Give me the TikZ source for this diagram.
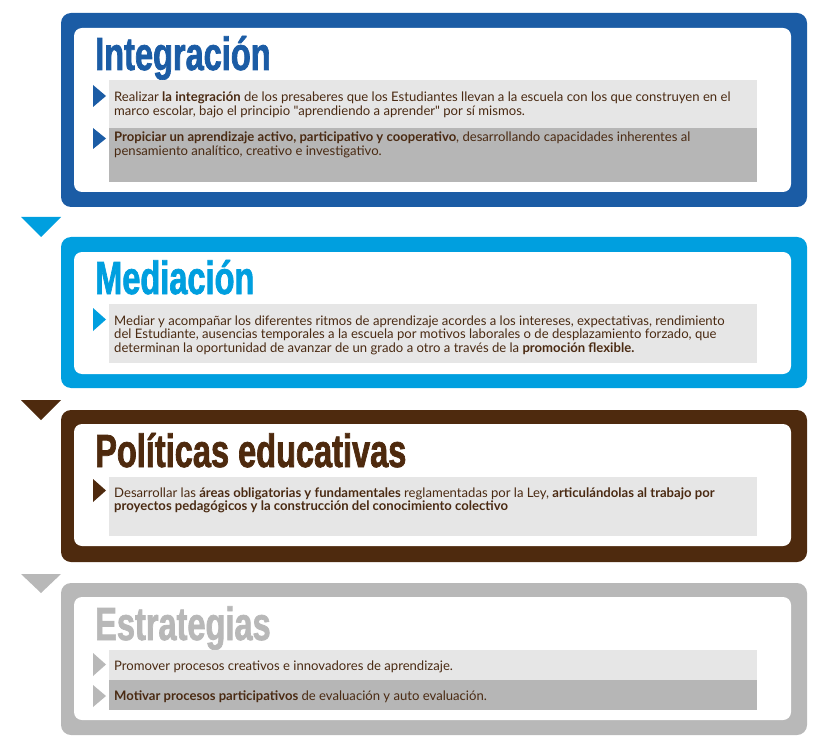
\documentclass[tikz,border=0pt]{standalone}
\usepackage{fontspec}
\setmainfont{Lato}[Ligatures=TeXOff]
\newfontfamily\titlefont[FakeStretch=0.70,FakeBold=1.5]{Liberation Sans}
\usetikzlibrary{positioning}
\definecolor{blueA}{HTML}{1B5CA5}
\definecolor{cyanA}{HTML}{009FDF}
\definecolor{brownA}{HTML}{4E2A0E}
\definecolor{grayA}{HTML}{B8B8B8}
\definecolor{lightbox}{HTML}{E6E6E6}
\definecolor{darkbox}{HTML}{B6B6B6}
\definecolor{txtc}{HTML}{4A2A12}
\tikzset{
  outerpanel/.style={anchor=north west, inner sep=0pt, outer sep=0pt, rounded corners=10pt, minimum width=746pt},
  innerpanel/.style={anchor=north west, inner sep=0pt, outer sep=0pt, fill=white, rounded corners=8pt, minimum width=717pt},
  itembox/.style={anchor=north west, inner sep=0pt, outer sep=0pt, minimum width=648pt},
  titletxt/.style={anchor=base west, inner sep=0pt, font=\titlefont\bfseries\fontsize{46.5}{46}\selectfont},
  linetxt/.style={anchor=base west, inner sep=0pt, text=txtc, font=\fontsize{13.1}{14}\selectfont},
}
\begin{document}
\begin{tikzpicture}[x=1pt,y=-1pt]
\useasboundingbox (0,0) rectangle (821,751);
% ---------- Panel 1: Integracion ----------
\node[outerpanel, fill=blueA, minimum height=194pt] (p1) at (61,13) {};
\node[innerpanel, minimum height=164pt] (p1in) at (74,28) {};
\node[titletxt, text=blueA] (t1) at (95,70) {Integración};
\node[itembox, fill=lightbox, minimum height=48pt] (b1a) at (109,80) {};
\node[itembox, fill=darkbox, minimum height=54pt] (b1b) at (109,128) {};
\fill[blueA] (93,85) -- (106,96) -- (93,107) -- cycle;
\fill[blueA] (93,128) -- (106,138.5) -- (93,149) -- cycle;
\node[linetxt] (l1a) at (114,102) {Realizar \textbf{la integración} de los presaberes que los Estudiantes llevan a la escuela con los que construyen en el};
\node[linetxt] (l1b) at (114,116) {marco escolar, bajo el principio "aprendiendo a aprender" por sí mismos.};
\node[linetxt] (l1c) at (114,142) {\textbf{Propiciar un aprendizaje activo, participativo y cooperativo}, desarrollando capacidades inherentes al};
\node[linetxt] (l1d) at (114,156) {pensamiento analítico, creativo e investigativo.};
% ---------- Panel 2: Mediacion ----------
\fill[cyanA] (21,217) -- (61,217) -- (41,237) -- cycle;
\node[outerpanel, fill=cyanA, minimum height=151pt] (p2) at (61,237) {};
\node[innerpanel, minimum height=122pt] (p2in) at (74,252) {};
\node[titletxt, text=cyanA] (t2) at (95,294) {Mediación};
\node[itembox, fill=lightbox, minimum height=59pt] (b2a) at (109,304) {};
\fill[cyanA] (93,308) -- (106,319.5) -- (93,331) -- cycle;
\node[linetxt] (l2a) at (114,325) {Mediar y acompañar los diferentes ritmos de aprendizaje acordes a los intereses, expectativas, rendimiento};
\node[linetxt] (l2b) at (114,338.5) {del Estudiante, ausencias temporales a la escuela por motivos laborales o de desplazamiento forzado, que};
\node[linetxt] (l2c) at (114,352) {determinan la oportunidad de avanzar de un grado a otro a través de la \textbf{promoción flexible.}};
% ---------- Panel 3: Politicas educativas ----------
\fill[brownA] (21,400) -- (61,400) -- (41,420) -- cycle;
\node[outerpanel, fill=brownA, minimum height=152pt] (p3) at (61,410) {};
\node[innerpanel, minimum height=122pt] (p3in) at (74,424) {};
\node[titletxt, text=brownA] (t3) at (95,467) {Políticas educativas};
\node[itembox, fill=lightbox, minimum height=59pt] (b3a) at (109,477) {};
\fill[brownA] (93,479) -- (106,490.5) -- (93,502) -- cycle;
\node[linetxt] (l3a) at (114,497) {Desarrollar las \textbf{áreas obligatorias y fundamentales} reglamentadas por la Ley, \textbf{articulándolas al trabajo por}};
\node[linetxt] (l3b) at (114,510.5) {\textbf{proyectos pedagógicos y la construcción del conocimiento colectivo}};
% ---------- Panel 4: Estrategias ----------
\fill[grayA] (21,574) -- (61,574) -- (41,593) -- cycle;
\node[outerpanel, fill=grayA, minimum height=152pt] (p4) at (61,583) {};
\node[innerpanel, minimum height=123pt] (p4in) at (74,597) {};
\node[titletxt, text=grayA] (t4) at (95,640) {Estrategias};
\node[itembox, fill=lightbox, minimum height=30pt] (b4a) at (109,650) {};
\node[itembox, fill=darkbox, minimum height=30pt] (b4b) at (109,680) {};
\fill[grayA] (93,653) -- (106,664.5) -- (93,676) -- cycle;
\fill[grayA] (93,685) -- (106,696) -- (93,707) -- cycle;
\node[linetxt] (l4a) at (114,670) {Promover procesos creativos e innovadores de aprendizaje.};
\node[linetxt] (l4b) at (114,700) {\textbf{Motivar procesos participativos} de evaluación y auto evaluación.};
\end{tikzpicture}
\end{document}
